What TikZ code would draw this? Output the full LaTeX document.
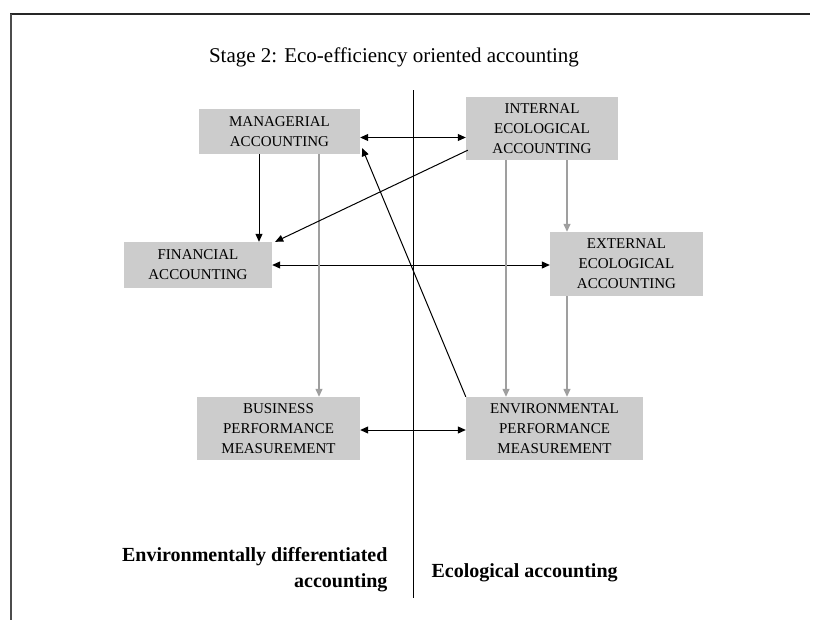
\documentclass[tikz,border=0pt]{standalone}
\usepackage{fontspec}
\setmainfont{Liberation Serif}
\usetikzlibrary{arrows.meta}
\begin{document}
\begin{tikzpicture}[x=1pt,y=-1pt,
  acbox/.style={fill=gray!40, inner sep=0pt, align=center,
    font=\fontsize{15}{20}\selectfont},
  tip/.style={-{Triangle[length=8pt,width=7pt]}},
  both/.style={{Triangle[length=8pt,width=7pt]}-{Triangle[length=8pt,width=7pt]}},
  blk/.style={draw=black, line width=1pt},
  gry/.style={draw=gray!75, line width=1.3pt},
  lbl/.style={font=\bfseries\fontsize{20}{26}\selectfont}]
\useasboundingbox (0,0) rectangle (815,629);

% frame
\draw[line width=2pt, black!85] (10,14) -- (810,14);
\draw[line width=1.8pt, black!70] (11,14) -- (11,620);

% title
\node (title) at (394,57) {\fontsize{21}{26}\selectfont Stage 2: Eco-efficiency oriented accounting};

% divider between the two accounting areas
\coordinate (divtop) at (413,90);
\coordinate (divbot) at (413,598);
\draw[blk] (divtop) -- (divbot);

% accounting boxes
\node[acbox, minimum width=161pt, minimum height=45pt] (mgr) at (279.5,131.5) {MANAGERIAL\\ACCOUNTING};
\node[acbox, minimum width=152pt, minimum height=63pt] (iea) at (542,128.5) {INTERNAL\\ECOLOGICAL\\ACCOUNTING};
\node[acbox, minimum width=148pt, minimum height=46pt] (fin) at (198,265) {FINANCIAL\\ACCOUNTING};
\node[acbox, minimum width=153pt, minimum height=64pt] (eea) at (626.5,264) {EXTERNAL\\ECOLOGICAL\\ACCOUNTING};
\node[acbox, minimum width=163pt, minimum height=63pt] (bpm) at (278.5,428.5) {BUSINESS\\PERFORMANCE\\MEASUREMENT};
\node[acbox, minimum width=177pt, minimum height=63pt] (epm) at (554.5,428.5) {ENVIRONMENTAL\\PERFORMANCE\\MEASUREMENT};

% two-way links
\draw[blk, both] ([yshift=-6pt]mgr.east) -- ([yshift=-6pt]mgr.east -| iea.west);
\draw[blk, both] (fin.east) -- (fin.east -| eea.west);
\draw[blk, both] ([yshift=-1.5pt]bpm.east) -- ([yshift=-1.5pt]bpm.east -| epm.west);

% vertical flows
\draw[blk, tip] ([xshift=-20.5pt]mgr.south) -- ([xshift=-20.5pt]mgr.south |- fin.north);
\draw[gry, tip] ([xshift=39.5pt]mgr.south) -- ([xshift=39.5pt]mgr.south |- bpm.north);
\draw[gry, tip] ([xshift=-36pt]iea.south) -- ([xshift=-36pt]iea.south |- epm.north);
\draw[gry, tip] ([xshift=25pt]iea.south) -- ([xshift=25pt]iea.south |- eea.north);
\draw[gry, tip] ([xshift=-59.5pt]eea.south) -- ([xshift=-59.5pt]eea.south |- epm.north);

% diagonal flows
\draw[blk, tip] ([xshift=2pt,yshift=10pt]iea.south west) -- ([xshift=3pt]fin.north east);
\draw[blk, tip] (epm.north west) -- ([xshift=2pt,yshift=6pt]mgr.south east);

% area labels
\node[lbl, align=right, anchor=east] (envdiff) at (391,570) {Environmentally differentiated\\accounting};
\node[lbl, anchor=west] (ecoacc) at (428,573) {Ecological accounting};
\end{tikzpicture}
\end{document}
